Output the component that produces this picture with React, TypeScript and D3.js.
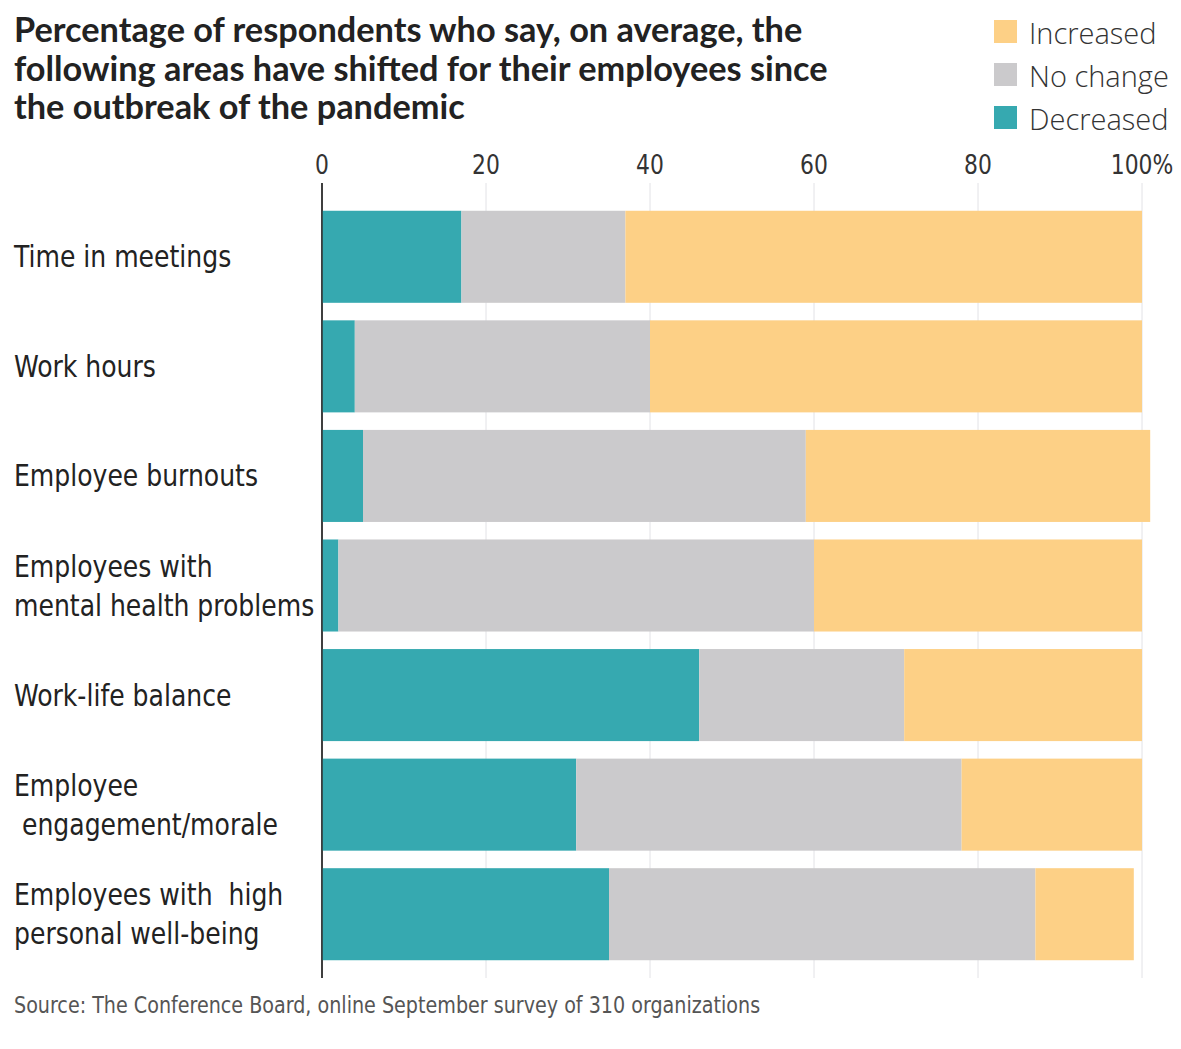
import React from "react";
import * as d3 from "d3";

const categories: string[][] = [
  ["Time in meetings"],
  ["Work hours"],
  ["Employee burnouts"],
  ["Employees with", "mental health problems"],
  ["Work-life balance"],
  ["Employee", " engagement/morale"],
  ["Employees with  high", "personal well-being"],
];
const decreased = [17, 4, 5, 2, 46, 31, 35];
const noChange = [20, 36, 54, 58, 25, 47, 52];
const increased = [63, 60, 42, 40, 29, 22, 12];
const tickValues = [0, 20, 40, 60, 80, 100];
const tickLabels = ["0", "20", "40", "60", "80", "100%"];
const seriesNames = ["Increased", "No change", "Decreased"];
const titleLines = [
  "Percentage of respondents who say, on average, the",
  "following areas have shifted for their employees since",
  "the outbreak of the pandemic",
];
const source = "Source: The Conference Board, online September survey of 310 organizations";

const COLORS: Record<string, string> = {
  Increased: "#fdd086",
  "No change": "#cbcacc",
  Decreased: "#36a9b0",
};

const NARROW = "'DejaVu Sans Condensed', 'DejaVu Sans', sans-serif";

export default function App() {
  const W = 1181;
  const H = 1049;
  const x = d3.scaleLinear().domain([0, 100]).range([322, 1142]);
  const y = d3
    .scaleBand<number>()
    .domain(d3.range(categories.length))
    .range([202, 969])
    .paddingInner(0.16)
    .paddingOuter(0.08);

  const rows = categories.map((c, i) => ({
    i,
    Decreased: decreased[i],
    "No change": noChange[i],
    Increased: increased[i],
  }));
  const stack = d3.stack<any>().keys(["Decreased", "No change", "Increased"]);
  const series = stack(rows);

  return (
    <svg
      width={W}
      height={H}
      style={{ position: "absolute", left: 0, top: 0, background: "#fff" }}
    >
      {titleLines.map((t, i) => (
        <text
          key={i}
          x={14}
          y={42 + i * 38.5}
          fontFamily="Lato, 'Noto Sans', sans-serif"
          fontWeight={700}
          fontSize={34.3}
          fill="#222"
        >
          {t}
        </text>
      ))}

      {seriesNames.map((s, i) => (
        <g key={s} transform={`translate(994, ${20 + i * 43})`}>
          <rect width={23} height={23} fill={COLORS[s]} />
          <text
            x={35}
            y={12}
            dominantBaseline="central"
            fontFamily="'Open Sans', sans-serif"
            fontWeight={300}
            fontSize={29}
            fill="#333"
          >
            {s}
          </text>
        </g>
      ))}

      {tickValues.map((v, i) => (
        <g key={v}>
          <line
            x1={x(v)}
            x2={x(v)}
            y1={183}
            y2={978}
            stroke={v === 0 ? "#333" : "#e2e2e6"}
            strokeWidth={v === 0 ? 1.5 : 1}
          />
          <g transform={`translate(${x(v)}, 165) scale(0.9, 1)`}>
            <text
              textAnchor="middle"
              dominantBaseline="central"
              fontFamily={NARROW}
              fontWeight={300}
              fontSize={27}
              fill="#333"
            >
              {tickLabels[i]}
            </text>
          </g>
        </g>
      ))}

      {series.map((s) => (
        <g key={s.key} fill={COLORS[s.key]}>
          {s.map((d, i) => (
            <rect
              key={i}
              x={x(d[0])}
              width={x(d[1]) - x(d[0])}
              y={y(i)}
              height={y.bandwidth()}
            />
          ))}
        </g>
      ))}
      <line x1={x(0)} x2={x(0)} y1={183} y2={978} stroke="#333" strokeWidth={1.5} />

      {categories.map((lines, i) => {
        const cy = (y(i) as number) + y.bandwidth() / 2;
        const n = lines.length;
        return lines.map((l, j) => (
          <g
            key={`${i}-${j}`}
            transform={`translate(14, ${cy + (j - (n - 1) / 2) * 39}) scale(0.9, 1)`}
          >
            <text
              dominantBaseline="central"
              fontFamily={NARROW}
              fontWeight={300}
              fontSize={31}
              fill="#222"
              style={{ whiteSpace: "pre" }}
            >
              {l}
            </text>
          </g>
        ));
      })}

      <g transform="translate(14, 1005) scale(0.925, 1)">
        <text
          dominantBaseline="central"
          fontFamily={NARROW}
          fontWeight={300}
          fontSize={23}
          fill="#555"
        >
          {source}
        </text>
      </g>
    </svg>
  );
}
